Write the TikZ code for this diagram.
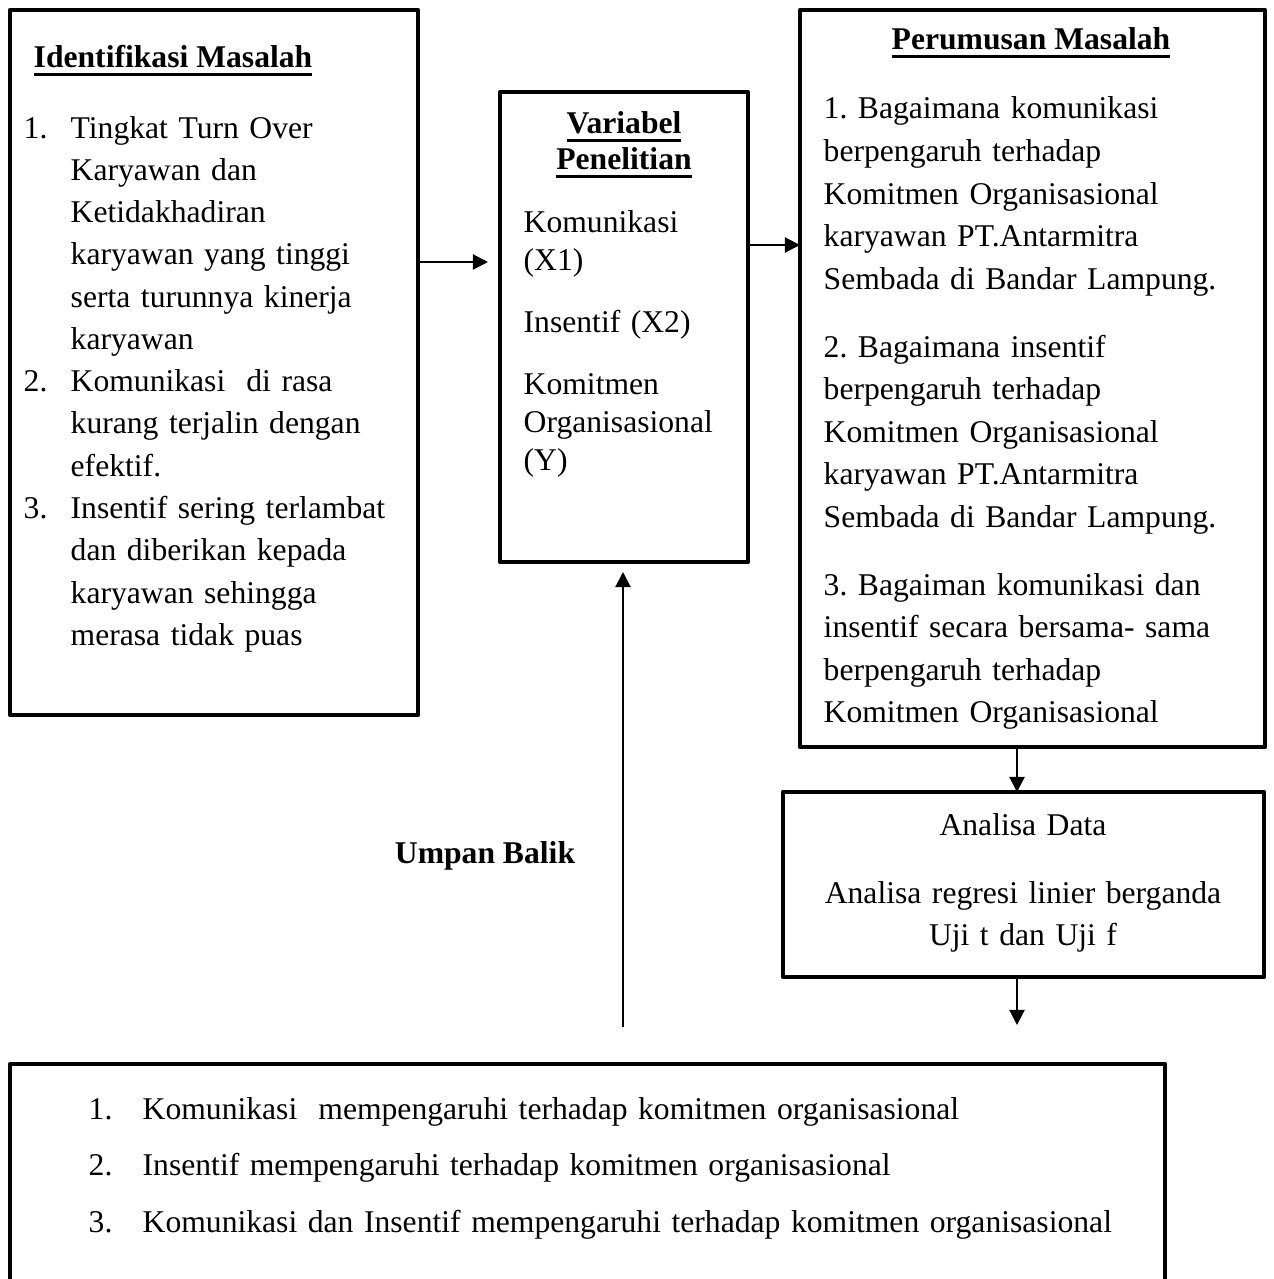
\documentclass[tikz,border=0pt]{standalone}
\usepackage{fontspec}
\setmainfont{Liberation Serif}
\usetikzlibrary{positioning, arrows.meta}
% underlined heading word
\newcommand{\garis}[1]{\leavevmode\setbox0\hbox{#1}\rlap{\vrule height -1.5pt depth 2.2pt width \wd0}\box0}

\begin{document}
\frenchspacing
\begin{tikzpicture}[
        % boxes sit by their top left corner, 1cm = 100px of the sketch
        box/.style={draw, line width=1.3pt, line join=round,
                    outer sep=0pt, inner sep=0pt, anchor=north west},
        txt/.style={inner sep=0pt, text width=#1, align=left, anchor=base west,
                    font={\fontsize{9}{12.03}\selectfont}},
        txt/.default=4cm,
        mid/.style={inner sep=0pt, text width=#1, align=center, anchor=base,
                    font={\fontsize{9}{12}\selectfont}},
        mid/.default=4.6cm,
        head/.style={inner sep=0pt, anchor=base west,
                     font={\fontsize{9}{10.24}\selectfont\bfseries}},
        arrow/.style={-{Triangle[length=4.3pt, width=4.3pt]}, line width=0.6pt}
    ]
    \useasboundingbox (0,0) rectangle (12.73,-12.79);

    % --- Boxes ---
    \node[box, minimum width=4.08cm, minimum height=7.05cm] (idm) at (0.10,-0.10) {};
    \node[box, minimum width=2.48cm, minimum height=4.70cm] (var) at (5.00,-0.92) {};
    \node[box, minimum width=4.65cm, minimum height=7.37cm] (rum) at (8.00,-0.10) {};
    \node[box, minimum width=4.81cm, minimum height=1.85cm] (ana) at (7.83,-7.92) {};
    \node[box, minimum width=11.55cm, minimum height=3.60cm] (hasil) at (0.10,-10.64) {};

    % --- Identifikasi Masalah ---
    \node[head] (idmHead) at (0.33,-0.68) {\garis{Identifikasi Masalah}};
    \node[txt=3.95cm] (idmList) at (0.23,-1.38) {%
        \begin{tabular}[t]{@{}p{0.47cm}@{}l@{}}
        1. & Tingkat Turn Over\\
           & Karyawan dan\\
           & Ketidakhadiran\\
           & karyawan yang tinggi\\
           & serta turunnya kinerja\\
           & karyawan\\
        2. & Komunikasi\ \ di rasa\\
           & kurang terjalin dengan\\
           & efektif.\\
        3. & Insentif sering terlambat\\
           & dan diberikan kepada\\
           & karyawan sehingga\\
           & merasa tidak puas
        \end{tabular}};

    % --- Variabel Penelitian ---
    \node[mid=2.3cm, font={\fontsize{9}{10.24}\selectfont\bfseries}] (varHead)
        at (6.24,-1.34) {\garis{Variabel}\\\garis{Penelitian}};
    \node[txt=2.2cm, font={\fontsize{9}{10.8}\selectfont}] (varList) at (5.23,-2.33)
        {Komunikasi\\(X1)\\[6.8pt]Insentif (X2)\\[6.8pt]Komitmen\\Organisasional\\(Y)};

    % --- Perumusan Masalah ---
    \node[head, anchor=base] (rumHead) at (10.31,-0.50) {\garis{Perumusan Masalah}};
    \node[txt=4.35cm, font={\fontsize{9}{12.1}\selectfont}] (rumList) at (8.23,-1.19)
        {1. Bagaimana komunikasi\\berpengaruh terhadap\\Komitmen Organisasional\\
         karyawan PT.Antarmitra\\Sembada di Bandar Lampung.\\[7.25pt]
         2. Bagaimana insentif\\berpengaruh terhadap\\Komitmen Organisasional\\
         karyawan PT.Antarmitra\\Sembada di Bandar Lampung.\\[7.25pt]
         3. Bagaiman komunikasi dan\\insentif secara bersama- sama\\
         berpengaruh terhadap\\Komitmen Organisasional};

    % --- Analisa Data ---
    \node[mid] (anaText) at (10.23,-8.35)
        {Analisa Data\\[7.4pt]Analisa regresi linier berganda\\Uji t dan Uji f};

    % --- Umpan Balik ---
    \node[head, anchor=base] (balik) at (4.85,-8.63) {Umpan Balik};

    % --- Hasil ---
    \node[txt=10.5cm, font={\fontsize{9}{16.2}\selectfont}] (hasilList) at (0.88,-11.19) {%
        \begin{tabular}[t]{@{}p{0.54cm}@{}l@{}}
        1. & Komunikasi\ \ mempengaruhi terhadap komitmen organisasional\\
        2. & Insentif mempengaruhi terhadap komitmen organisasional\\
        3. & Komunikasi dan Insentif mempengaruhi terhadap komitmen organisasional
        \end{tabular}};

    % --- Arrows ---
    \coordinate (rowA) at (0,-2.62);
    \coordinate (rowB) at (0,-2.45);
    \coordinate (colR) at (10.17,0);
    \coordinate (colM) at (6.23,0);

    \draw[arrow, shorten >=1.2mm] (idm.east |- rowA) -- (var.west |- rowA);
    \draw[arrow] (var.east |- rowB) -- (rum.west |- rowB);
    \draw[arrow] (rum.south -| colR) -- (ana.north -| colR);
    \draw[arrow, shorten >=3.9mm] (ana.south -| colR) -- (hasil.north -| colR);
    \draw[arrow, shorten <=3.7mm, shorten >=1mm] (hasil.north -| colM) -- (var.south -| colM);

\end{tikzpicture}
\end{document}
